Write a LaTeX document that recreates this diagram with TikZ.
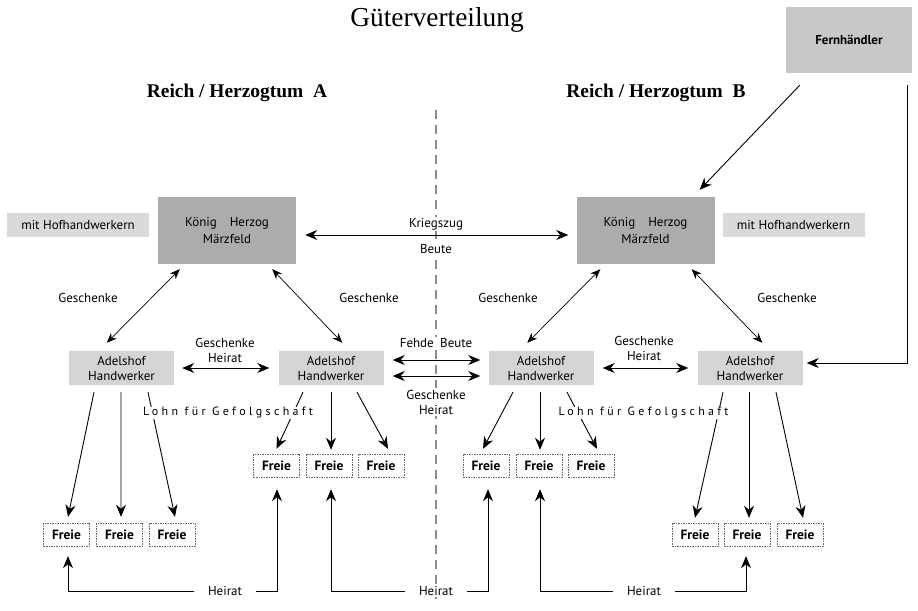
\documentclass[tikz,border=0pt]{standalone}
\usepackage{fontspec}
\setmainfont{PT Sans}
\newfontfamily\titlefont{Liberation Serif}
\newfontfamily\spacedfont[LetterSpace=28]{PT Sans}
\usetikzlibrary{arrows.meta}
\definecolor{konigfill}{RGB}{172,172,172}
\definecolor{hoffill}{RGB}{218,218,218}
\definecolor{adelfill}{RGB}{212,212,212}
\definecolor{fernfill}{RGB}{200,200,200}
\begin{document}
\begin{tikzpicture}[x=1bp,y=-1bp,>={Stealth[length=12bp,width=10bp]},line join=bevel,
  every node/.style={font=\fontsize{13}{15}\selectfont},
  konig/.style={fill=konigfill,minimum width=138bp,minimum height=67bp,align=center},
  hofbox/.style={fill=hoffill,minimum width=142bp,minimum height=24bp},
  fernbox/.style={fill=fernfill,minimum width=126bp,minimum height=66bp},
  adel/.style={fill=adelfill,minimum width=105bp,minimum height=34bp,inner sep=1bp,align=center,font=\fontsize{13}{15}\selectfont},
  freie/.style={draw=black!60,dash pattern=on 1.5bp off 1bp,minimum width=46bp,minimum height=23bp,inner sep=1bp,font=\fontsize{13.5}{15}\selectfont\bfseries},
  lbl/.style={fill=white,inner sep=1.5bp,align=center},
  arr/.style={->,line width=0.9bp},
  dbl/.style={<->,line width=0.9bp},
  gift/.style={<->,line width=0.7bp,>={Stealth[length=10bp,width=8bp]}},
]
\useasboundingbox (0,0) rectangle (918,611);
%%
% Border line between the two realms
\coordinate (grenzeO) at (436,110);
\coordinate (grenzeU) at (436,605);
\draw [black!45,dash pattern=on 9bp off 6bp,line width=1.3bp] (grenzeO) -- (grenzeU);
%%
% Node: titles
\node (titel) at (437,20) {\titlefont\fontsize{27.5}{30}\selectfont Güterverteilung};
\node (reichA) at (237,93) {\titlefont\bfseries\fontsize{19.5}{22}\selectfont Reich / Herzogtum\ \ A};
\node (reichB) at (656,93) {\titlefont\bfseries\fontsize{19.5}{22}\selectfont Reich / Herzogtum\ \ B};
% Node: Fernhaendler
\node [fernbox] (fern) at (849,40) {\bfseries Fernhändler};
% Node: Koenig A, Koenig B
\node [konig] (konA) at (227,230.5) {König\quad Herzog\\[3bp]Märzfeld};
\node [konig] (konB) at (645.5,230.5) {König\quad Herzog\\[3bp]Märzfeld};
\node [hofbox] (hofA) at (78,225) {mit Hofhandwerkern};
\node [hofbox] (hofB) at (793.5,225) {mit Hofhandwerkern};
% Node: Adelshoefe
\node [adel] (adA1) at (121.5,368) {Adelshof\\Handwerker};
\node [adel] (adA2) at (331,368) {Adelshof\\Handwerker};
\node [adel] (adB1) at (541,368) {Adelshof\\Handwerker};
\node [adel] (adB2) at (750,368) {Adelshof\\Handwerker};
% Node: Freie
\node [freie] (fA1) at (66.5,534.5) {Freie};
\node [freie] (fA2) at (119.5,534.5) {Freie};
\node [freie] (fA3) at (172,534.5) {Freie};
\node [freie] (fuA1) at (276.5,465.5) {Freie};
\node [freie] (fuA2) at (329,465.5) {Freie};
\node [freie] (fuA3) at (381,465.5) {Freie};
\node [freie] (fuB1) at (486,465.5) {Freie};
\node [freie] (fuB2) at (539,465.5) {Freie};
\node [freie] (fuB3) at (591,465.5) {Freie};
\node [freie] (fB1) at (695,534.5) {Freie};
\node [freie] (fB2) at (747,534.5) {Freie};
\node [freie] (fB3) at (800,534.5) {Freie};
%%
% Edge: Fernhaendler -> Koenig B, Fernhaendler -> Adelshof B2
\draw [arr] ([shift={(14,12)}]fern.south west) -- ([shift={(-15,-7)}]konB.north east);
\draw [arr] ([shift={(-5,12)}]fern.south east) |- ([shift={(4,-5)}]adB2.east);
% Edge: Kriegszug
\draw [dbl] ([shift={(9,4.5)}]konA.east) -- ([shift={(-8,4.5)}]konB.west);
% Edge: Koenig <-> Adelshof
\draw [gift] ([shift={(22,5)}]konA.south west) -- ([shift={(38,-8)}]adA1.north west);
\draw [gift] ([shift={(-24,5)}]konA.south east) -- ([shift={(64,-8)}]adA2.north west);
\draw [gift] ([shift={(24,5)}]konB.south west) -- ([shift={(39,-8)}]adB1.north west);
\draw [gift] ([shift={(-23,5)}]konB.south east) -- ([shift={(65,-8)}]adB2.north west);
% Edge: Adelshof <-> Adelshof
\draw [dbl] ([xshift=8bp]adA1.east) -- ([xshift=-9bp]adA2.west);
\draw [dbl] ([xshift=9bp]adB1.east) -- ([xshift=-9bp]adB2.west);
\draw [dbl] ([shift={(9,-8)}]adA2.east) -- ([shift={(-8,-8)}]adB1.west);
\draw [dbl] ([shift={(9,8)}]adA2.east) -- ([shift={(-8,8)}]adB1.west);
% Edge: Adelshof -> Freie
\draw [arr] ([shift={(-27.5,7)}]adA1.south) -- ([shift={(1.5,-6)}]fA1.north);
\draw [arr] ([shift={(-0.5,7)}]adA1.south) -- ([shift={(1.5,-6)}]fA2.north);
\draw [arr] ([shift={(26.5,7)}]adA1.south) -- ([shift={(3,-6)}]fA3.north);
\draw [arr] ([shift={(-28,7)}]adA2.south) -- ([shift={(0,-5)}]fuA1.north);
\draw [arr] ([shift={(0,7)}]adA2.south) -- ([shift={(2,-4)}]fuA2.north);
\draw [arr] ([shift={(26,7)}]adA2.south) -- ([shift={(7,-5)}]fuA3.north);
\draw [arr] ([shift={(-28,7)}]adB1.south) -- ([shift={(-3,-5)}]fuB1.north);
\draw [arr] ([shift={(-1,7)}]adB1.south) -- ([shift={(1,-4)}]fuB2.north);
\draw [arr] ([shift={(26,7)}]adB1.south) -- ([shift={(6,-5)}]fuB3.north);
\draw [arr] ([shift={(-27,7)}]adB2.south) -- ([shift={(0,-5)}]fB1.north);
\draw [arr] ([shift={(-1,7)}]adB2.south) -- ([shift={(2,-5)}]fB2.north);
\draw [arr] ([shift={(26,7)}]adB2.south) -- ([shift={(3,-5)}]fB3.north);
%%
% Node: labels
\node [lbl] (kriegszug) at (436,224) {Kriegszug};
\node [lbl] (beute) at (436,249) {Beute};
\node (geschA1) at (88,298) {Geschenke};
\node (geschA2) at (369,298) {Geschenke};
\node (geschB1) at (508,298) {Geschenke};
\node (geschB2) at (787,298) {Geschenke};
\node [lbl,fill=none] (heiratA) at (225,350) {Geschenke\\Heirat};
\node [lbl,fill=none] (heiratB) at (644,348) {Geschenke\\Heirat};
\node [lbl] (fehde) at (436,343) {Fehde\enspace Beute};
\node [lbl] (heiratM) at (436,402) {Geschenke\\Heirat};
\node [lbl,inner sep=0.5bp] (lohnA) at (228,413) {\spacedfont\fontsize{12}{14}\selectfont Lohn für Gefolgschaft};
\node [lbl,inner sep=0.5bp] (lohnB) at (643.5,413) {\spacedfont\fontsize{12}{14}\selectfont Lohn für Gefolgschaft};
\node [lbl] (hA) at (225,591) {Heirat};
\node [lbl] (hM) at (436,591) {Heirat};
\node [lbl] (hB) at (644,591) {Heirat};
%%
% Edge: Heirat -> Freie
\draw [arr] ([xshift=-12bp]hA.west) -| ([shift={(1.5,10)}]fA1.south);
\draw [arr] ([xshift=12bp]hA.east) -| ([shift={(0.5,12)}]fuA1.south);
\draw [arr] ([xshift=-12bp]hM.west) -| ([shift={(2,12)}]fuA2.south);
\draw [arr] ([xshift=12bp]hM.east) -| ([shift={(2,12)}]fuB1.south);
\draw [arr] ([xshift=-12bp]hB.west) -| ([shift={(1,12)}]fuB2.south);
\draw [arr] ([xshift=12bp]hB.east) -| ([shift={(-1,10)}]fB2.south);
%
\end{tikzpicture}
\end{document}
